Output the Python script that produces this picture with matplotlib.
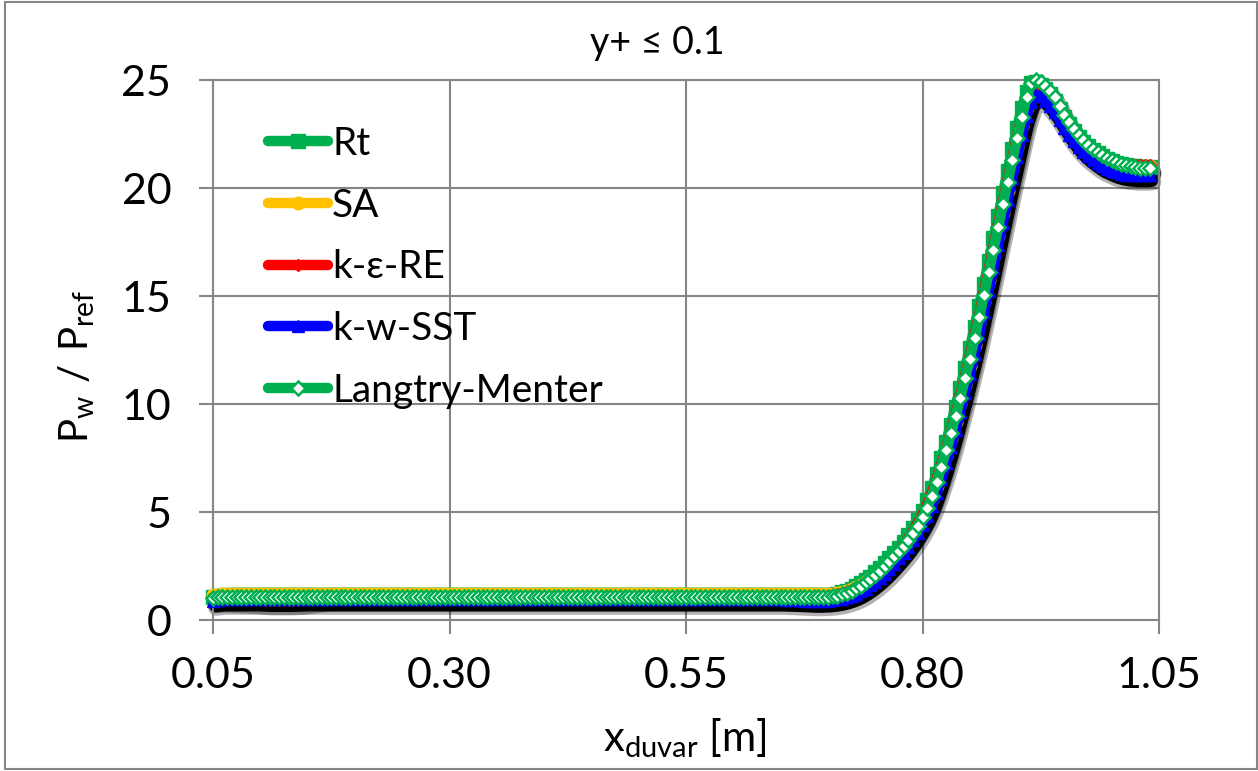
import matplotlib
matplotlib.use("Agg")
import matplotlib.pyplot as plt
import matplotlib.patheffects as pe
from matplotlib.patches import Rectangle

plt.rcParams['font.family'] = ['Lato', 'DejaVu Sans']
plt.rcParams['mathtext.fontset'] = 'custom'
plt.rcParams['mathtext.rm'] = 'Lato'

# x positions along the wall [m]
x_duvar = [
    0.050, 0.055, 0.060, 0.065, 0.070, 0.075, 0.080, 0.085, 0.090, 0.095,
    0.100, 0.105, 0.110, 0.115, 0.120, 0.125, 0.130, 0.135, 0.140, 0.145,
    0.150, 0.155, 0.160, 0.165, 0.170, 0.175, 0.180, 0.185, 0.190, 0.195,
    0.200, 0.205, 0.210, 0.215, 0.220, 0.225, 0.230, 0.235, 0.240, 0.245,
    0.250, 0.255, 0.260, 0.265, 0.270, 0.275, 0.280, 0.285, 0.290, 0.295,
    0.300, 0.305, 0.310, 0.315, 0.320, 0.325, 0.330, 0.335, 0.340, 0.345,
    0.350, 0.355, 0.360, 0.365, 0.370, 0.375, 0.380, 0.385, 0.390, 0.395,
    0.400, 0.405, 0.410, 0.415, 0.420, 0.425, 0.430, 0.435, 0.440, 0.445,
    0.450, 0.455, 0.460, 0.465, 0.470, 0.475, 0.480, 0.485, 0.490, 0.495,
    0.500, 0.505, 0.510, 0.515, 0.520, 0.525, 0.530, 0.535, 0.540, 0.545,
    0.550, 0.555, 0.560, 0.565, 0.570, 0.575, 0.580, 0.585, 0.590, 0.595,
    0.600, 0.605, 0.610, 0.615, 0.620, 0.625, 0.630, 0.635, 0.640, 0.645,
    0.650, 0.655, 0.660, 0.665, 0.670, 0.675, 0.680, 0.685, 0.690, 0.695,
    0.700, 0.705, 0.710, 0.715, 0.720, 0.725, 0.730, 0.735, 0.740, 0.745,
    0.750, 0.755, 0.760, 0.765, 0.770, 0.775, 0.780, 0.785, 0.790, 0.795,
    0.800, 0.805, 0.810, 0.815, 0.820, 0.825, 0.830, 0.835, 0.840, 0.845,
    0.850, 0.855, 0.860, 0.865, 0.870, 0.875, 0.880, 0.885, 0.890, 0.895,
    0.900, 0.905, 0.910, 0.915, 0.920, 0.925, 0.930, 0.935, 0.940, 0.945,
    0.950, 0.955, 0.960, 0.965, 0.970, 0.975, 0.980, 0.985, 0.990, 0.995,
    1.000, 1.005, 1.010, 1.015, 1.020, 1.025, 1.030, 1.035, 1.040,
]

# Pw / Pref for each turbulence model
rt = [
    1.08, 1.11, 1.13, 1.14, 1.15, 1.15, 1.15, 1.15, 1.15, 1.15,
    1.15, 1.15, 1.15, 1.15, 1.15, 1.15, 1.15, 1.15, 1.15, 1.15,
    1.15, 1.15, 1.15, 1.15, 1.15, 1.15, 1.15, 1.15, 1.15, 1.15,
    1.15, 1.15, 1.15, 1.15, 1.15, 1.15, 1.15, 1.15, 1.15, 1.15,
    1.15, 1.15, 1.15, 1.15, 1.15, 1.15, 1.15, 1.15, 1.15, 1.15,
    1.15, 1.15, 1.15, 1.15, 1.15, 1.15, 1.15, 1.15, 1.15, 1.15,
    1.15, 1.15, 1.15, 1.15, 1.15, 1.15, 1.15, 1.15, 1.15, 1.15,
    1.15, 1.15, 1.15, 1.15, 1.15, 1.15, 1.15, 1.15, 1.15, 1.15,
    1.15, 1.15, 1.15, 1.15, 1.15, 1.15, 1.15, 1.15, 1.15, 1.15,
    1.15, 1.15, 1.15, 1.15, 1.15, 1.15, 1.15, 1.15, 1.15, 1.15,
    1.15, 1.15, 1.15, 1.15, 1.15, 1.15, 1.15, 1.15, 1.15, 1.15,
    1.15, 1.15, 1.15, 1.15, 1.15, 1.15, 1.15, 1.15, 1.15, 1.15,
    1.15, 1.15, 1.15, 1.15, 1.15, 1.15, 1.15, 1.15, 1.15, 1.15,
    1.15, 1.18, 1.22, 1.28, 1.36, 1.45, 1.56, 1.69, 1.84, 2.01,
    2.20, 2.40, 2.62, 2.85, 3.09, 3.35, 3.63, 3.93, 4.26, 4.63,
    5.05, 5.55, 6.12, 6.77, 7.48, 8.25, 9.05, 9.88, 10.75, 11.65,
    12.58, 13.55, 14.55, 15.57, 16.62, 17.67, 18.72, 19.76, 20.80, 21.80,
    22.78, 23.70, 24.45, 24.85, 24.90, 24.78, 24.58, 24.33, 24.03, 23.67,
    23.30, 22.96, 22.65, 22.38, 22.14, 21.93, 21.75, 21.60, 21.47, 21.36,
    21.26, 21.17, 21.10, 21.05, 21.02, 21.00, 20.99, 20.98, 20.98,
]
sa = [
    1.15, 1.18, 1.20, 1.21, 1.21, 1.21, 1.21, 1.21, 1.21, 1.21,
    1.21, 1.21, 1.21, 1.21, 1.21, 1.21, 1.21, 1.21, 1.21, 1.21,
    1.21, 1.21, 1.21, 1.21, 1.21, 1.21, 1.21, 1.21, 1.21, 1.21,
    1.21, 1.21, 1.21, 1.21, 1.21, 1.21, 1.21, 1.21, 1.21, 1.21,
    1.21, 1.21, 1.21, 1.21, 1.21, 1.21, 1.21, 1.21, 1.21, 1.21,
    1.21, 1.21, 1.21, 1.21, 1.21, 1.21, 1.21, 1.21, 1.21, 1.21,
    1.21, 1.21, 1.21, 1.21, 1.21, 1.21, 1.21, 1.21, 1.21, 1.21,
    1.21, 1.21, 1.21, 1.21, 1.21, 1.21, 1.21, 1.21, 1.21, 1.21,
    1.21, 1.21, 1.21, 1.21, 1.21, 1.21, 1.21, 1.21, 1.21, 1.21,
    1.21, 1.21, 1.21, 1.21, 1.21, 1.21, 1.21, 1.21, 1.21, 1.21,
    1.21, 1.21, 1.21, 1.21, 1.21, 1.21, 1.21, 1.21, 1.21, 1.21,
    1.21, 1.21, 1.21, 1.21, 1.21, 1.21, 1.21, 1.21, 1.21, 1.21,
    1.21, 1.21, 1.21, 1.20, 1.20, 1.20, 1.20, 1.20, 1.20, 1.20,
    1.20, 1.22, 1.25, 1.29, 1.35, 1.42, 1.51, 1.62, 1.75, 1.90,
    2.06, 2.24, 2.43, 2.64, 2.86, 3.10, 3.36, 3.64, 3.94, 4.28,
    4.66, 5.10, 5.62, 6.22, 6.88, 7.60, 8.37, 9.17, 10.00, 10.88,
    11.78, 12.72, 13.70, 14.70, 15.72, 16.76, 17.80, 18.84, 19.88, 20.88,
    21.88, 22.86, 23.72, 24.35, 24.60, 24.55, 24.37, 24.13, 23.84, 23.48,
    23.12, 22.78, 22.47, 22.20, 21.96, 21.75, 21.57, 21.42, 21.29, 21.19,
    21.11, 21.05, 21.01, 20.99, 20.98, 20.98, 20.99, 21.00, 21.01,
]
ke_re = [
    1.05, 1.05, 1.05, 1.04, 1.03, 1.02, 1.01, 1.00, 0.99, 0.97,
    0.95, 0.93, 0.92, 0.92, 0.92, 0.92, 0.92, 0.93, 0.94, 0.96,
    0.99, 1.02, 1.05, 1.07, 1.09, 1.10, 1.10, 1.10, 1.10, 1.10,
    1.10, 1.10, 1.10, 1.10, 1.10, 1.10, 1.10, 1.10, 1.10, 1.10,
    1.10, 1.10, 1.10, 1.10, 1.10, 1.10, 1.10, 1.10, 1.10, 1.10,
    1.10, 1.10, 1.10, 1.10, 1.10, 1.10, 1.10, 1.10, 1.10, 1.10,
    1.10, 1.10, 1.10, 1.10, 1.10, 1.10, 1.10, 1.10, 1.10, 1.10,
    1.10, 1.10, 1.10, 1.10, 1.10, 1.10, 1.10, 1.10, 1.10, 1.10,
    1.10, 1.10, 1.10, 1.10, 1.10, 1.10, 1.10, 1.10, 1.10, 1.10,
    1.10, 1.10, 1.10, 1.10, 1.10, 1.10, 1.10, 1.10, 1.10, 1.10,
    1.10, 1.10, 1.10, 1.10, 1.10, 1.10, 1.10, 1.10, 1.10, 1.10,
    1.10, 1.10, 1.10, 1.10, 1.10, 1.10, 1.10, 1.10, 1.10, 1.10,
    1.10, 1.10, 1.10, 1.10, 1.10, 1.10, 1.10, 1.10, 1.11, 1.11,
    1.12, 1.15, 1.19, 1.24, 1.31, 1.39, 1.49, 1.61, 1.75, 1.91,
    2.09, 2.28, 2.49, 2.71, 2.95, 3.20, 3.48, 3.78, 4.11, 4.47,
    4.88, 5.35, 5.90, 6.52, 7.20, 7.93, 8.72, 9.54, 10.40, 11.29,
    12.21, 13.17, 14.16, 15.18, 16.22, 17.27, 18.32, 19.36, 20.40, 21.40,
    22.38, 23.32, 24.12, 24.60, 24.72, 24.62, 24.43, 24.19, 23.90, 23.55,
    23.19, 22.86, 22.56, 22.29, 22.06, 21.86, 21.69, 21.54, 21.42, 21.32,
    21.23, 21.16, 21.11, 21.08, 21.06, 21.05, 21.05, 21.05, 21.06,
]
kw_sst = [
    0.90, 0.93, 0.95, 0.95, 0.95, 0.95, 0.95, 0.95, 0.95, 0.95,
    0.95, 0.95, 0.95, 0.95, 0.95, 0.95, 0.95, 0.95, 0.95, 0.95,
    0.95, 0.95, 0.95, 0.95, 0.95, 0.95, 0.95, 0.95, 0.95, 0.95,
    0.95, 0.95, 0.95, 0.95, 0.95, 0.95, 0.95, 0.95, 0.95, 0.95,
    0.95, 0.95, 0.95, 0.95, 0.95, 0.95, 0.95, 0.95, 0.95, 0.95,
    0.95, 0.95, 0.95, 0.95, 0.95, 0.95, 0.95, 0.95, 0.95, 0.95,
    0.95, 0.95, 0.95, 0.95, 0.95, 0.95, 0.95, 0.95, 0.95, 0.95,
    0.95, 0.95, 0.95, 0.95, 0.95, 0.95, 0.95, 0.95, 0.95, 0.95,
    0.95, 0.95, 0.95, 0.95, 0.95, 0.95, 0.95, 0.95, 0.95, 0.95,
    0.95, 0.95, 0.95, 0.95, 0.95, 0.95, 0.95, 0.95, 0.95, 0.95,
    0.95, 0.95, 0.95, 0.95, 0.95, 0.95, 0.95, 0.95, 0.95, 0.95,
    0.95, 0.95, 0.95, 0.95, 0.95, 0.95, 0.95, 0.95, 0.95, 0.95,
    0.95, 0.94, 0.93, 0.92, 0.91, 0.90, 0.89, 0.88, 0.88, 0.89,
    0.90, 0.92, 0.95, 0.99, 1.05, 1.12, 1.21, 1.32, 1.45, 1.60,
    1.77, 1.95, 2.15, 2.37, 2.60, 2.85, 3.11, 3.39, 3.70, 4.03,
    4.40, 4.80, 5.30, 5.90, 6.55, 7.25, 8.00, 8.80, 9.65, 10.50,
    11.40, 12.30, 13.25, 14.25, 15.25, 16.30, 17.35, 18.40, 19.45, 20.45,
    21.45, 22.45, 23.35, 24.00, 24.30, 24.25, 24.05, 23.80, 23.50, 23.15,
    22.80, 22.47, 22.17, 21.90, 21.67, 21.47, 21.30, 21.14, 21.00, 20.90,
    20.80, 20.72, 20.66, 20.62, 20.60, 20.58, 20.58, 20.58, 20.60,
]
langtry = [
    1.02, 1.05, 1.07, 1.08, 1.08, 1.08, 1.08, 1.08, 1.08, 1.08,
    1.08, 1.08, 1.08, 1.08, 1.08, 1.08, 1.08, 1.08, 1.08, 1.08,
    1.08, 1.08, 1.08, 1.08, 1.08, 1.08, 1.08, 1.08, 1.08, 1.08,
    1.08, 1.08, 1.08, 1.08, 1.08, 1.08, 1.08, 1.08, 1.08, 1.08,
    1.08, 1.08, 1.08, 1.08, 1.08, 1.08, 1.08, 1.08, 1.08, 1.08,
    1.08, 1.08, 1.08, 1.08, 1.08, 1.08, 1.08, 1.08, 1.08, 1.08,
    1.08, 1.08, 1.08, 1.08, 1.08, 1.08, 1.08, 1.08, 1.08, 1.08,
    1.08, 1.08, 1.08, 1.08, 1.08, 1.08, 1.08, 1.08, 1.08, 1.08,
    1.08, 1.08, 1.08, 1.08, 1.08, 1.08, 1.08, 1.08, 1.08, 1.08,
    1.08, 1.08, 1.08, 1.08, 1.08, 1.08, 1.08, 1.08, 1.08, 1.08,
    1.08, 1.08, 1.08, 1.08, 1.08, 1.08, 1.08, 1.08, 1.08, 1.08,
    1.08, 1.08, 1.08, 1.08, 1.08, 1.08, 1.08, 1.08, 1.08, 1.08,
    1.08, 1.08, 1.07, 1.07, 1.07, 1.06, 1.06, 1.06, 1.05, 1.05,
    1.05, 1.09, 1.13, 1.19, 1.26, 1.35, 1.46, 1.59, 1.74, 1.91,
    2.09, 2.28, 2.49, 2.71, 2.94, 3.18, 3.44, 3.72, 4.03, 4.37,
    4.75, 5.20, 5.75, 6.40, 7.10, 7.85, 8.65, 9.45, 10.30, 11.20,
    12.10, 13.05, 14.05, 15.05, 16.10, 17.15, 18.20, 19.25, 20.30, 21.30,
    22.30, 23.30, 24.20, 24.85, 25.00, 24.90, 24.70, 24.50, 24.20, 23.80,
    23.40, 23.05, 22.72, 22.45, 22.20, 21.98, 21.80, 21.65, 21.52, 21.40,
    21.30, 21.20, 21.12, 21.05, 21.00, 20.96, 20.94, 20.92, 20.92,
]

etiquetas = ["Rt", "SA", "k-ε-RE", "k-w-SST", "Langtry-Menter"]
x_ticks = [0.05, 0.30, 0.55, 0.80, 1.05]
y_ticks = [0, 5, 10, 15, 20, 25]

gris = "#868686"
verde = "#00B050"

fig = plt.figure(figsize=(12.58, 7.71), dpi=100)
ax = fig.add_axes([213 / 1258, 1 - 620 / 771, 946 / 1258, 540 / 771])

series = [rt, sa, ke_re, kw_sst, langtry]

# black shadow under the curves (drawn first so the lines cover it)
for y in series:
    ax.plot(x_duvar, y, color="k", lw=8, solid_capstyle="round", clip_on=False, zorder=1,
            path_effects=[pe.SimpleLineShadow(offset=(2.5, -5), shadow_color="k", alpha=0.3, linewidth=12),
                          pe.SimpleLineShadow(offset=(2, -4.5), shadow_color="k", alpha=1.0)])

estilos = [
    dict(color=verde, marker="s", ms=10, mfc=verde, mec=verde),
    dict(color="#FFC000", marker="o", ms=9, mfc="#FFC000", mec="#FFC000"),
    dict(color="#FF0000", marker="D", ms=6, mfc="#FF0000", mec="#FF0000"),
    dict(color="#0000FF", marker="^", ms=9, mfc="#0000FF", mec="#0000FF"),
    dict(color=verde, marker="D", ms=7.5, mfc="white", mec=verde, mew=1.8),
]
for y, lab, st in zip(series, etiquetas, estilos):
    ax.plot(x_duvar, y, lw=7.5, solid_capstyle="round", label=lab, clip_on=False, zorder=3, **st)

ax.set_xlim(0.05, 1.05)
ax.set_ylim(0, 25)
ax.set_xticks(x_ticks)
ax.set_xticklabels([f"{v:.2f}" for v in x_ticks])
ax.set_yticks(y_ticks)
ax.grid(True, color=gris, lw=1.5)
ax.set_axisbelow(True)
for s in ax.spines.values():
    s.set_color(gris)
    s.set_linewidth(1.5)
ax.tick_params(axis="both", direction="out", length=10, width=1.5, color=gris, labelsize=31)
ax.tick_params(axis="y", pad=20)
ax.tick_params(axis="x", pad=17)

leg = ax.legend(loc="upper left", bbox_to_anchor=(268 / 1258, 1 - 126 / 771),
                bbox_transform=fig.transFigure, frameon=False, fontsize=28,
                handlelength=1.55, handletextpad=0.1, labelspacing=0.66,
                borderpad=0, borderaxespad=0, numpoints=1)

fig.text(657 / 1258, 1 - 54 / 771, "y+ ≤ 0.1", fontsize=27, ha="center", va="baseline")
fig.text(685 / 1258, 1 - 751 / 771, r"x$\mathregular{_{duvar}}$ [m]", fontsize=30, ha="center", va="baseline")
fig.text(77 / 1258, 1 - 366 / 771, r"$\mathregular{P_w\ /\ P_{ref}}$", fontsize=29,
         rotation=90, ha="center", va="center")

# chart border
fig.patches.append(Rectangle((5 / 1258, 2 / 771), 1252 / 1258, 767 / 771, transform=fig.transFigure,
                             fill=False, ec=gris, lw=1.5))

fig.savefig("out.png", dpi=100)
